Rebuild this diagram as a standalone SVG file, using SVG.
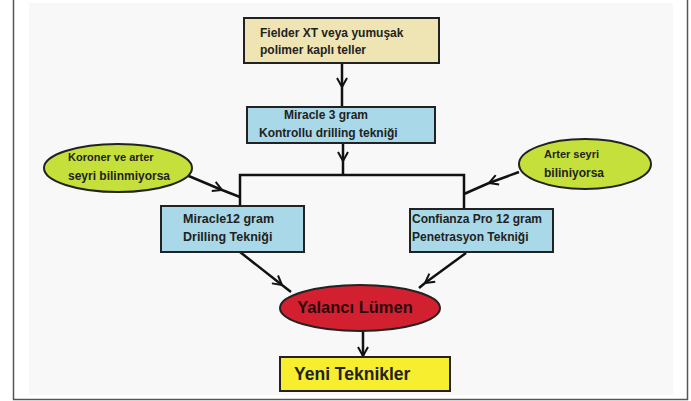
<svg xmlns="http://www.w3.org/2000/svg" width="691" height="401" viewBox="0 0 691 401">
<defs>
<marker id="ah" viewBox="0 0 12 12" refX="10" refY="6" markerWidth="12" markerHeight="12" markerUnits="userSpaceOnUse" orient="auto">
<path d="M1,1 L10,6 L1,11" fill="none" stroke="#111" stroke-width="2"/>
</marker>
</defs>
<style>
.box{stroke:#222;stroke-width:2}
.t{font-family:"Liberation Sans",Arial,sans-serif;font-weight:bold;font-size:12px;fill:#222}
.c{fill:none;stroke:#111;stroke-width:2.5}
</style>
<rect x="0" y="0" width="691" height="401" fill="#ffffff"/>
<rect x="29" y="3" width="644" height="392" fill="#f8f8f8"/>
<path d="M13.5,0 V399.5 H687.5 V0" fill="none" stroke="#555" stroke-width="1.5"/>

<g id="connectors">
<path class="c" d="M342,63 V87" marker-end="url(#ah)"/>
<path class="c" d="M342,87 V107"/>
<path class="c" d="M343,143 V161" marker-end="url(#ah)"/>
<path class="c" d="M343,161 V175"/>
<path class="c" d="M240,206 V175 H464 V208"/>
<path class="c" d="M184,174 L222,190" marker-end="url(#ah)"/>
<path class="c" d="M222,190 L240,197"/>
<path class="c" d="M519,172 L489,183" marker-end="url(#ah)"/>
<path class="c" d="M489,183 L464,194"/>
<path class="c" d="M240,252 L282,285" marker-end="url(#ah)"/>
<path class="c" d="M282,285 L291,292"/>
<path class="c" d="M466,253 L425,283" marker-end="url(#ah)"/>
<path class="c" d="M425,283 L419,288"/>
<path class="c" d="M363,331 V356" marker-end="url(#ah)"/>
</g>

<g id="n1">
<rect class="box" x="244" y="18" width="195" height="45" fill="#efe5b4"/>
<text class="t" x="260" y="37">Fielder XT veya yumuşak</text>
<text class="t" x="260" y="54">polimer kaplı teller</text>
</g>
<g id="n2">
<rect class="box" x="247" y="107" width="188" height="36" fill="#a9d9e8"/>
<text class="t" x="284" y="119">Miracle 3 gram</text>
<text class="t" x="259" y="137">Kontrollu drilling tekniği</text>
</g>
<g id="n3">
<ellipse class="box" cx="118" cy="168" rx="74" ry="24" fill="#c5e03a"/>
<text class="t" x="68" y="161" style="font-size:11px">Koroner ve arter</text>
<text class="t" x="68" y="180">seyri bilinmiyorsa</text>
</g>
<g id="n4">
<ellipse class="box" cx="585" cy="164" rx="66" ry="25" fill="#c5e03a"/>
<text class="t" x="544" y="158" style="font-size:11px">Arter seyri</text>
<text class="t" x="544" y="177">biliniyorsa</text>
</g>
<g id="n5">
<rect class="box" x="161" y="206" width="143" height="46" fill="#a9d9e8"/>
<text class="t" x="183" y="223" style="font-size:12.5px">Miracle12 gram</text>
<text class="t" x="183" y="241" style="font-size:12.5px">Drilling Tekniği</text>
</g>
<g id="n6">
<rect class="box" x="410" y="209" width="143" height="43" fill="#a9d9e8"/>
<text class="t" x="412" y="223">Confianza Pro 12 gram</text>
<text class="t" x="412" y="241">Penetrasyon Tekniği</text>
</g>
<g id="n7">
<ellipse class="box" cx="360" cy="308" rx="80" ry="23" fill="#d32030"/>
<text class="t" x="355" y="313" text-anchor="middle" style="font-size:16.5px;fill:#2a0a0a">Yalancı Lümen</text>
</g>
<g id="n8">
<rect class="box" x="280" y="357" width="170" height="34" fill="#f6ee2e"/>
<text class="t" x="294" y="380" style="font-size:17.5px">Yeni Teknikler</text>
</g>
</svg>
